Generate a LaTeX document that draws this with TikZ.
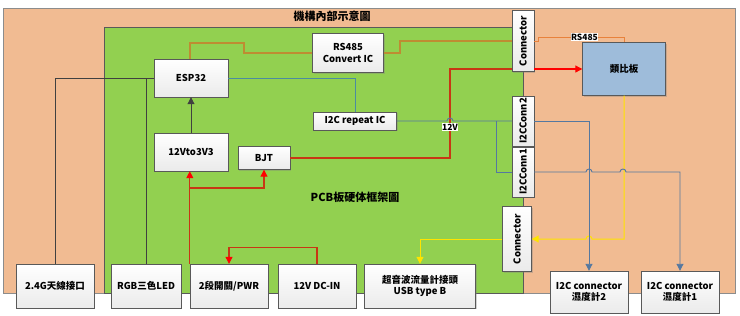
\documentclass[tikz,border=0pt]{standalone}
\usepackage{fontspec}
\setmainfont{Noto Sans CJK TC}
\usetikzlibrary{arrows.meta,shadows}

\definecolor{shell}{RGB}{241,187,146}
\definecolor{pcb}{RGB}{146,208,80}
\definecolor{analog}{RGB}{158,188,218}
\definecolor{rsin}{RGB}{190,140,50}
\definecolor{rsout}{RGB}{232,130,60}
\definecolor{pwr}{RGB}{200,55,20}
\definecolor{bus}{RGB}{85,120,160}
\definecolor{esbus}{RGB}{75,140,160}
\definecolor{sig}{RGB}{255,228,0}

\begin{document}
\begin{tikzpicture}[x=1pt,y=-1pt,
  blk/.style={draw=black!65, top color=white, bottom color=black!8, align=center,
              font=\bfseries\fontsize{9.5}{11.5}\selectfont, inner sep=1pt,
              drop shadow={shadow xshift=1.2pt, shadow yshift=-1.2pt, opacity=.35}},
  anabox/.style={draw=black!65, fill=analog, font=\bfseries\fontsize{9.5}{11.5}\selectfont,
                 drop shadow={shadow xshift=1.2pt, shadow yshift=-1.2pt, opacity=.35}},
  lbl/.style={fill=white, inner sep=0.5pt, font=\bfseries\fontsize{8.5}{9}\selectfont},
  arr/.style={-{Triangle[length=7pt,width=7pt]}},
  ctl/.style={draw=black!75, line width=0.9pt},
  rsl/.style={draw=rsin, line width=1.4pt},
  rso/.style={draw=rsout, line width=0.9pt},
  esl/.style={draw=esbus, line width=0.9pt},
  pwrl/.style={draw=pwr, line width=1.1pt, -{Triangle[length=7pt,width=7pt,color=red]}},
  busl/.style={draw=bus, line width=0.9pt},
  sigl/.style={draw=sig, line width=1pt}]
\useasboundingbox (0,0) rectangle (740,316);
\draw[fill=shell, draw=black!45] (3,8) rectangle (735,293);
\draw[fill=pcb, draw=black!65, line width=0.9pt] (104,27) rectangle (523,293);
\node[font=\bfseries\fontsize{11}{12}\selectfont] (title) at (332,16) {機構內部示意圖};
\node[font=\bfseries\fontsize{11}{12}\selectfont] (pcbname) at (355,197) {PCB板硬体框架圖};

\node[blk, minimum width=74pt, minimum height=38pt] (esp) at (191,78) {ESP32};
\node[blk, minimum width=71pt, minimum height=39pt] (rs) at (348,53) {RS485\\Convert IC};
\node[blk, rotate=90, minimum width=61pt, minimum height=22pt] (conA) at (523,41) {Connector};
\node[anabox, minimum width=83pt, minimum height=53pt] (ana) at (624,69) {類比板};
\node[blk, minimum width=83pt, minimum height=18pt] (rep) at (355,121) {I2C repeat IC};
\node[blk, minimum width=74pt, minimum height=38pt] (reg) at (191,152) {12Vto3V3};
\node[blk, minimum width=52pt, minimum height=23pt] (bjt) at (264,158) {BJT};
\node[blk, rotate=90, minimum width=50pt, minimum height=22pt] (c2) at (523,121) {I2CConn2};
\node[blk, rotate=90, minimum width=50pt, minimum height=22pt] (c1) at (523,172) {I2CConn1};
\node[blk, rotate=90, minimum width=65pt, minimum height=29pt] (conB) at (517,239) {Connector};

\node[blk, minimum width=78pt, minimum height=44pt] (ant) at (55,286) {2.4G天線接口};
\node[blk, minimum width=70pt, minimum height=44pt] (led) at (146,286) {RGB三色LED};
\node[blk, minimum width=78pt, minimum height=44pt] (sw) at (229,286) {2段開關/PWR};
\node[blk, minimum width=78pt, minimum height=44pt] (dcin) at (317,286) {12V DC-IN};
\node[blk, minimum width=111pt, minimum height=44pt] (usb) at (420,286) {超音波流量計接頭\\USB type B};
\node[blk, minimum width=78pt, minimum height=42pt] (hum2) at (589,292) {I2C connector\\濕度計2};
\node[blk, minimum width=78pt, minimum height=42pt] (hum1) at (680,292) {I2C connector\\濕度計1};

\coordinate (v12) at (450,69);
\coordinate (split) at (496,121);
\coordinate (fork) at (190,188);

\draw[ctl] (ant.north) |- (esp.west);
\draw[ctl] (led.north) -- (led.north |- esp.west);
\draw[ctl, arr] (reg.north) -- (esp.south);

\draw[rsl] ([xshift=-1pt]esp.north) |- (244,43) |- (rs.west);
\draw[rsl] (rs.east) -- (400,53) |- (conA.north);
\draw[rso] (conA.south) -- (538,41) -- (538,37) -| node[pos=0.27, lbl] (rslbl) {RS485} (ana.north);

\draw[esl] (esp.east) -| (rep.north);
\draw[pwrl, -] (bjt.east) -| (v12) -- (v12 -| conA.north);
\draw[busl] (rep.east) -- (447,121) arc (180:360:3) -- (c2.north);
\draw[busl] (split) |- (c1.north);
\node[lbl] (v12lbl) at (450,127) {12V};
\draw[pwrl, draw=red] (conA.south |- ana.west) -- (ana.west);

\draw[pwrl] (dcin.north) -- ++(0,-16) -| (sw.north);
\draw[pwrl] (sw.north west) -- (sw.north west |- reg.south);
\draw[pwrl] (fork) -| (bjt.south);

\draw[sigl, arr] (ana.south) |- (592,239) arc (360:180:3) -- (conB.south);
\draw[sigl, arr] (conB.north) -| (usb.north);

\draw[busl, arr] (c2.south) -| (hum2.north);
\draw[busl, arr] (c1.south) -- (586,172) arc (180:360:3) -- (620,172) arc (180:360:3) -| (hum1.north);
\end{tikzpicture}
\end{document}
